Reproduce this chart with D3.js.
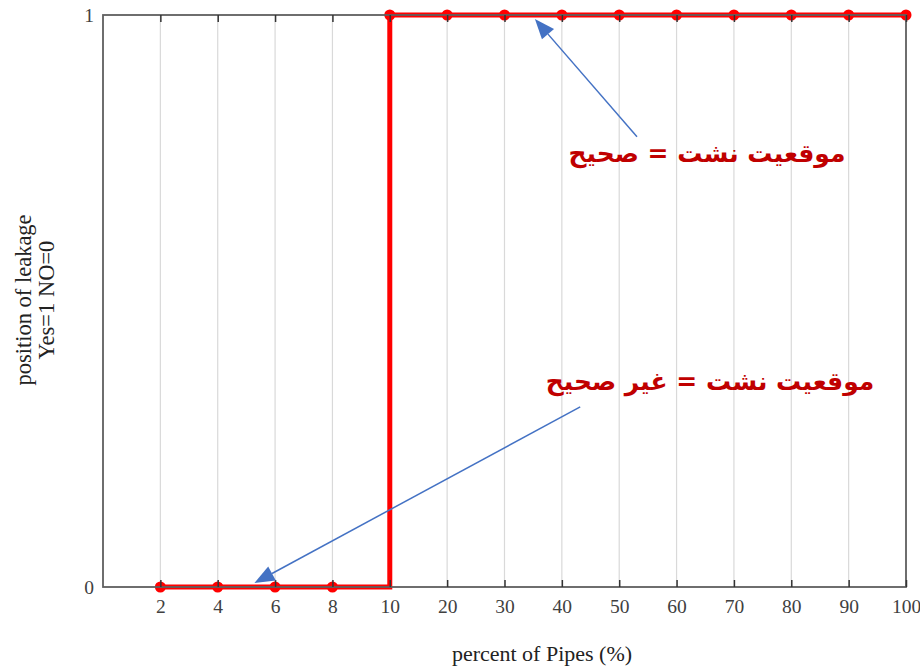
<!DOCTYPE html>
<html>
<head>
<meta charset="utf-8">
<script src="https://cdn.jsdelivr.net/npm/d3@7/dist/d3.min.js"></script>
<style>
  html, body { margin: 0; padding: 0; background: #fff; }
  svg { display: block; }
</style>
</head>
<body>
<svg id="chart" width="920" height="670"></svg>
<script>
const categories = ["2","4","6","8","10","20","30","40","50","60","70","80","90","100"];
const values = [0,0,0,0,1,1,1,1,1,1,1,1,1,1];
const yTicks = [0, 1];
const xTitle = "percent of Pipes (%)";
const yTitleLines = ["position of leakage", "Yes=1 NO=0"];
const annotations = [
  { text: "موقعيت نشت = صحيح", tx: 707, ty: 162, from: [8.31, 0.787], to: [6.53, 0.993] },
  { text: "موقعيت نشت = غير صحيح", tx: 710, ty: 390, from: [7.32, 0.315], to: [1.64, 0.007] }
];

(function () {
const pL = 103, pR = 906, pT = 15, pB = 587;
const svg = d3.select("#chart");

const xi = d3.scaleLinear().domain([-1, categories.length - 1]).range([pL, pR]);
const x = c => xi(categories.indexOf(c));
const y = d3.scaleLinear().domain([0, 1]).range([pB, pT]);

// gridlines
svg.append("g").selectAll("line").data(categories.slice(0, -1)).join("line")
  .attr("x1", d => x(d)).attr("x2", d => x(d))
  .attr("y1", pT).attr("y2", pB)
  .attr("stroke", "#d9d9d9").attr("stroke-width", 1.2);

// data line
const pts = categories.map((c, i) => ({ c, v: values[i] }));
svg.append("path").datum(pts)
  .attr("d", d3.line().x(d => x(d.c)).y(d => y(d.v)).curve(d3.curveStepAfter))
  .attr("fill", "none").attr("stroke", "#ff0000").attr("stroke-width", 5);
svg.append("g").selectAll("circle").data(pts).join("circle")
  .attr("cx", d => x(d.c)).attr("cy", d => y(d.v)).attr("r", 5.5)
  .attr("fill", "#ff0000");

// frame
svg.append("rect").attr("x", pL).attr("y", pT)
  .attr("width", pR - pL).attr("height", pB - pT)
  .attr("fill", "none").attr("stroke", "#5f5f5f").attr("stroke-width", 1.8);

// x axis ticks (inward) and labels
const xp = d3.scalePoint().domain(categories).range([x(categories[0]), pR]);
const fs = 19.5;
const gB = svg.append("g").attr("transform", `translate(0,${pB})`)
  .call(d3.axisBottom(xp).tickSize(-7).tickPadding(12.5));
gB.select(".domain").remove();
gB.selectAll(".tick line").attr("stroke", "#333").attr("stroke-width", 1.5);
gB.selectAll(".tick text").attr("font-family", "Liberation Serif, serif")
  .attr("font-size", fs).attr("fill", "#404040");

const gT = svg.append("g").attr("transform", `translate(0,${pT})`)
  .call(d3.axisTop(xp).tickSize(-7).tickFormat(""));
gT.select(".domain").remove();
gT.selectAll(".tick line").attr("stroke", "#333").attr("stroke-width", 1.5);

// y axis labels
const gY = svg.append("g").attr("transform", `translate(${pL},0)`)
  .call(d3.axisLeft(y).tickValues(yTicks).tickFormat(d3.format("d")).tickSize(0).tickPadding(9));
gY.select(".domain").remove();
gY.selectAll(".tick text").attr("font-family", "Liberation Serif, serif")
  .attr("font-size", fs).attr("fill", "#404040");

// axis titles
svg.append("text").attr("x", 542).attr("y", 661).attr("text-anchor", "middle")
  .attr("font-family", "Liberation Serif, serif").attr("font-size", 22).attr("fill", "#222")
  .text(xTitle);
const yt = svg.append("text").attr("transform", "translate(31,300) rotate(-90)")
  .attr("text-anchor", "middle").attr("font-family", "Liberation Serif, serif")
  .attr("font-size", 22.5).attr("fill", "#222");
yTitleLines.forEach((t, i) => yt.append("tspan").attr("x", 0).attr("dy", i === 0 ? 0 : 22.5).text(t));

// annotations
annotations.forEach(a => {
  const x1 = xi(a.from[0]), y1 = y(a.from[1]);
  const x2 = xi(a.to[0]), y2 = y(a.to[1]);
  const ang = Math.atan2(y2 - y1, x2 - x1);
  const L = 20, Wd = 8;
  const bx = x2 - L * Math.cos(ang), by = y2 - L * Math.sin(ang);
  svg.append("line").attr("x1", x1).attr("y1", y1).attr("x2", bx).attr("y2", by)
    .attr("stroke", "#4472c4").attr("stroke-width", 1.5);
  const p = [[x2, y2],
    [bx + Wd * Math.sin(ang), by - Wd * Math.cos(ang)],
    [bx - Wd * Math.sin(ang), by + Wd * Math.cos(ang)]];
  svg.append("polygon").attr("points", p.map(q => q.join(",")).join(" "))
    .attr("fill", "#4472c4");
  svg.append("text").attr("x", a.tx).attr("y", a.ty).attr("text-anchor", "middle")
    .attr("direction", "rtl").attr("font-family", "DejaVu Sans, sans-serif")
    .attr("font-weight", "bold").attr("font-size", 25).attr("fill", "#c00000")
    .text(a.text);
});
})();
</script>
</body>
</html>
